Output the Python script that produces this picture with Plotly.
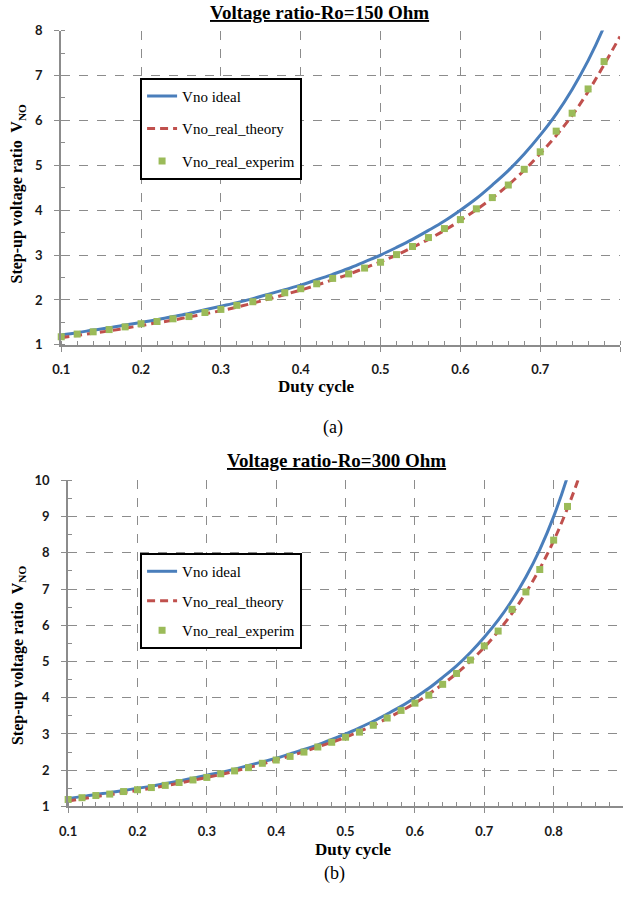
import plotly.graph_objects as go

# ---------------- data ----------------
duty_a = [0.10, 0.12, 0.14, 0.16, 0.18, 0.20, 0.22, 0.24, 0.26, 0.28, 0.30, 0.32,
          0.34, 0.36, 0.38, 0.40, 0.42, 0.44, 0.46, 0.48, 0.50, 0.52, 0.54, 0.56,
          0.58, 0.60, 0.62, 0.64, 0.66, 0.68, 0.70, 0.72, 0.74, 0.76, 0.78, 0.80]
ideal_a = [1.22, 1.27, 1.33, 1.38, 1.44, 1.50, 1.56, 1.63, 1.70, 1.78, 1.86, 1.94,
           2.03, 2.13, 2.23, 2.33, 2.45, 2.57, 2.70, 2.85, 3.00, 3.17, 3.35, 3.55,
           3.76, 4.00, 4.26, 4.56, 4.88, 5.25, 5.67, 6.14, 6.69, 7.33, 8.09, 9.00]
theory_a = [1.16, 1.21, 1.26, 1.31, 1.37, 1.43, 1.49, 1.55, 1.62, 1.69, 1.76, 1.84,
            1.93, 2.02, 2.12, 2.22, 2.33, 2.45, 2.57, 2.71, 2.85, 3.00, 3.17, 3.35,
            3.55, 3.77, 4.01, 4.27, 4.56, 4.89, 5.26, 5.66, 6.11, 6.64, 7.24, 7.87]
exp_duty_a = duty_a[:-1]
exp_a = [1.18, 1.24, 1.29, 1.34, 1.40, 1.47, 1.52, 1.58, 1.63, 1.72, 1.79, 1.88,
         1.96, 2.06, 2.16, 2.25, 2.36, 2.48, 2.58, 2.71, 2.84, 3.01, 3.19, 3.39,
         3.59, 3.79, 4.03, 4.28, 4.56, 4.91, 5.30, 5.76, 6.16, 6.70, 7.31]

duty_b = [0.10, 0.12, 0.14, 0.16, 0.18, 0.20, 0.22, 0.24, 0.26, 0.28, 0.30, 0.32,
          0.34, 0.36, 0.38, 0.40, 0.42, 0.44, 0.46, 0.48, 0.50, 0.52, 0.54, 0.56,
          0.58, 0.60, 0.62, 0.64, 0.66, 0.68, 0.70, 0.72, 0.74, 0.76, 0.78, 0.80,
          0.82, 0.84, 0.86]
ideal_b = [1.22, 1.27, 1.33, 1.38, 1.44, 1.50, 1.56, 1.63, 1.70, 1.78, 1.86, 1.94,
           2.03, 2.13, 2.23, 2.33, 2.45, 2.57, 2.70, 2.85, 3.00, 3.17, 3.35, 3.55,
           3.76, 4.00, 4.26, 4.56, 4.88, 5.25, 5.67, 6.14, 6.69, 7.33, 8.09, 9.00,
           10.11, 11.50, 13.29]
theory_b = [1.15, 1.21, 1.27, 1.32, 1.38, 1.44, 1.50, 1.57, 1.64, 1.72, 1.80, 1.88,
            1.97, 2.07, 2.17, 2.28, 2.39, 2.51, 2.64, 2.77, 2.91, 3.07, 3.24, 3.43,
            3.63, 3.85, 4.10, 4.37, 4.67, 5.01, 5.39, 5.83, 6.33, 6.90, 7.56, 8.33,
            9.23, 10.28, 11.50]
exp_duty_b = duty_b[:37]
exp_b = [1.19, 1.24, 1.30, 1.34, 1.41, 1.46, 1.52, 1.58, 1.66, 1.73, 1.80, 1.90,
         1.98, 2.07, 2.19, 2.28, 2.38, 2.50, 2.64, 2.77, 2.91, 3.05, 3.24, 3.44,
         3.65, 3.85, 4.07, 4.37, 4.67, 5.04, 5.43, 5.84, 6.44, 6.92, 7.54, 8.35,
         9.28]

names = ["Vno ideal", "Vno_real_theory", "Vno_real_experim"]
titles = ["Voltage ratio-Ro=150 Ohm", "Voltage ratio-Ro=300 Ohm"]
ytitle = "Step-up voltage ratio  V<sub>NO</sub>"
xtitle = "Duty cycle"
captions = ["(a)", "(b)"]
xticks_a = [0.1, 0.2, 0.3, 0.4, 0.5, 0.6, 0.7, 0.8]
xticks_b = [0.1, 0.2, 0.3, 0.4, 0.5, 0.6, 0.7, 0.8, 0.9]

# ---------------- style ----------------
PAGE_W, PAGE_H = 639, 907
OFF = 8                      # default body margin of the html page
W, H = PAGE_W - 2 * OFF, PAGE_H - 2 * OFF
BLUE = "#4A7EBB"
RED = "#C0504D"
GREEN = "#9BBB59"
SERIF = "Liberation Serif"
SANS = "Lato"

fig = go.Figure()

def add_set(xa, ya, leg, duty, ideal, theory, edut, ex):
    fig.add_trace(go.Scatter(x=duty, y=ideal, mode="lines", name=names[0],
                             line=dict(color=BLUE, width=3, shape="spline"),
                             xaxis=xa, yaxis=ya, legend=leg, legendgroup=leg + "1"))
    fig.add_trace(go.Scatter(x=duty, y=theory, mode="lines", name=names[1],
                             line=dict(color=RED, width=3, dash="8px,5px", shape="spline"),
                             xaxis=xa, yaxis=ya, legend=leg, legendgroup=leg + "2"))
    fig.add_trace(go.Scatter(x=edut, y=ex, mode="markers", name=names[2],
                             marker=dict(color=GREEN, size=7, symbol="square"),
                             cliponaxis=False,
                             xaxis=xa, yaxis=ya, legend=leg, legendgroup=leg + "3"))

add_set("x", "y", "legend", duty_a, ideal_a, theory_a, exp_duty_a, exp_a)
add_set("x2", "y2", "legend2", duty_b, ideal_b, theory_b, exp_duty_b, exp_b)

def px_x(p):
    return (p - OFF) / W

def px_y(p):
    return 1 - (p - OFF) / H

tickfont = dict(family=SANS, size=13, color="#1a1a1a", weight="bold")
grid = dict(showgrid=True, gridcolor="#8c8c8c", griddash="dash", gridwidth=1,
            showline=True, linecolor="#8c8c8c", linewidth=2,
            ticks="outside", ticklen=5, tickcolor="#8c8c8c", tickwidth=1,
            tickfont=tickfont, zeroline=False)

legfont = dict(family=SERIF, size=15, color="black")

fig.update_layout(
    width=W, height=H, margin=dict(l=0, r=0, t=0, b=0),
    paper_bgcolor="white", plot_bgcolor="white",
    font=dict(family=SERIF, size=15, color="black"),
    showlegend=True,
    xaxis=dict(domain=[px_x(61), px_x(628)], range=[0.1, 0.8], anchor="y",
               tickvals=xticks_a, ticktext=[f"{v:.1f}" for v in xticks_a],
               minor=dict(dtick=0.02, tick0=0.1, ticks="inside", ticklen=4,
                          tickcolor="#8c8c8c", showgrid=False),
               ticklabelstandoff=7, **grid),
    yaxis=dict(domain=[px_y(351), px_y(31)], range=[1, 8], anchor="x",
               dtick=1, minor=dict(dtick=0.5, ticks="inside", ticklen=4,
                                   tickcolor="#8c8c8c", showgrid=False),
               ticklabelstandoff=9, **grid),
    xaxis2=dict(domain=[px_x(68), min(1.0, px_x(633))], range=[0.1, 0.9], anchor="y2",
                tickvals=xticks_b, ticktext=[f"{v:.1f}" for v in xticks_b],
                minor=dict(dtick=0.02, tick0=0.1, ticks="inside", ticklen=4,
                           tickcolor="#8c8c8c", showgrid=False),
                ticklabelstandoff=7, **grid),
    yaxis2=dict(domain=[px_y(821), px_y(489)], range=[1, 10], anchor="x2",
                dtick=1, minor=dict(dtick=0.5, ticks="inside", ticklen=4,
                                    tickcolor="#8c8c8c", showgrid=False),
                ticklabelstandoff=9, **grid),
    legend=dict(x=px_x(141), y=px_y(79), xanchor="left", yanchor="top",
                bgcolor="white", bordercolor="black", borderwidth=2,
                font=legfont,
                traceorder="grouped", tracegroupgap=10, itemwidth=30),
    legend2=dict(x=px_x(141), y=px_y(563), xanchor="left", yanchor="top",
                 bgcolor="white", bordercolor="black", borderwidth=2,
                 font=legfont,
                 traceorder="grouped", tracegroupgap=7, itemwidth=30),
)

ann = []
# chart titles
ann.append(dict(text=f"<u><b>{titles[0]}</b></u>", x=px_x(323), y=px_y(13), size=19))
ann.append(dict(text=f"<u><b>{titles[1]}</b></u>", x=px_x(340), y=px_y(469), size=19))
# x titles
ann.append(dict(text=f"<b>{xtitle}</b>", x=px_x(320), y=px_y(393), size=17))
ann.append(dict(text=f"<b>{xtitle}</b>", x=px_x(357), y=px_y(865), size=17))
# captions
ann.append(dict(text=captions[0], x=px_x(337), y=px_y(435), size=18))
ann.append(dict(text=captions[1], x=px_x(338), y=px_y(889), size=18))

for a in ann:
    fig.add_annotation(text=a["text"], x=a["x"], y=a["y"], xref="paper", yref="paper",
                       showarrow=False, xanchor="center", yanchor="middle",
                       font=dict(family=SERIF, size=a["size"], color="black"))

# y titles
for yc in (197, 667):
    fig.add_annotation(text=f"<b>{ytitle}</b>", x=px_x(17), y=px_y(yc),
                       xref="paper", yref="paper", showarrow=False, textangle=-90,
                       xanchor="center", yanchor="middle",
                       font=dict(family=SERIF, size=16, color="black"))

fig.write_html("out.html")
